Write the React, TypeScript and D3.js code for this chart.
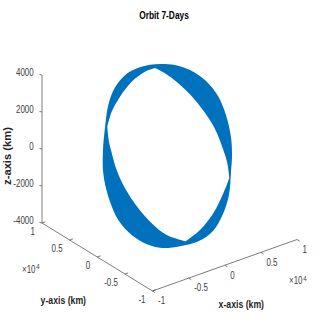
import React from "react";
import * as d3 from "d3";

const xTicks = [-1, -0.5, 0, 0.5, 1];
const yTicks = [1, 0.5, 0, -0.5, -1];
const zTicks = [4000, 2000, 0, -2000, -4000];

// Outer edge of the swept orbit band: x, y (x10^4 km), z (km)
const outerX = [0.233,0.36,0.499,0.612,0.68,0.695,0.671,0.622,0.555,0.459,0.337,0.183,0.012,-0.192,-0.375,-0.51,-0.629,-0.711,-0.732,-0.704,-0.629,-0.537,-0.428,-0.304,-0.14,-0.009,0.116];
const outerY = [0.446,0.371,0.264,0.139,0.011,-0.113,-0.235,-0.318,-0.387,-0.476,-0.527,-0.548,-0.518,-0.441,-0.354,-0.26,-0.139,-0.003,0.15,0.278,0.381,0.466,0.548,0.589,0.587,0.552,0.504];
const outerZ = [3898,3802,3510,3014,2343,1524,592,-160,-860,-1805,-2569,-3234,-3591,-3734,-3732,-3518,-3070,-2395,-1389,-398,570,1474,2413,3112,3644,3839,3916];

// Inner edge of the band, starting at the upper cusp, going clockwise
const innerX = [0.154,0.234,0.332,0.441,0.538,0.553,0.548,0.518,0.409,0.244,0.058,-0.122,-0.286,-0.394,-0.476,-0.54,-0.561,-0.551,-0.543,-0.51,-0.417,-0.285,-0.121,0.043];
const innerY = [0.463,0.388,0.275,0.115,-0.102,-0.251,-0.33,-0.405,-0.439,-0.473,-0.476,-0.449,-0.323,-0.193,-0.058,0.099,0.222,0.339,0.385,0.459,0.501,0.523,0.526,0.5];
const innerZ = [3759,3499,3030,2271,1074,84,-485,-1115,-1712,-2501,-3139,-3550,-3212,-2666,-1991,-1107,-316,537,889,1518,2122,2710,3285,3646];
const innerCorners = [0, 7, 11, 19];

// Oblique projection of MATLAB's 3-D axes
const sxX = d3.scaleLinear().domain([-1, 1]).range([-72.25, 72.25]);
const sxY = d3.scaleLinear().domain([-1, 1]).range([55.25, -55.25]);
const syX = d3.scaleLinear().domain([-1, 1]).range([25.75, -25.75]);
const syY = d3.scaleLinear().domain([-1, 1]).range([34, -34]);
const syZ = d3.scaleLinear().domain([-4000, 4000]).range([74, -74]);
const CX = 169.5, CY = 157.25;
const px = (x: number, y: number) => CX + sxX(x) + sxY(y);
const py = (x: number, y: number, z: number) => CY + syX(x) + syY(y) + syZ(z);
const P = (x: number, y: number, z: number): [number, number] => [px(x, y), py(x, y, z)];

const SANS = "'Liberation Sans', Arial, sans-serif";
const AXC = "#5a5a5a";
const TXT = "#404040";

// Text squeezed horizontally, as in the reference's narrow lettering
function T({ x, y, k = 0.76, anchor = "start", mid = false, children, ...rest }: any) {
  return (
    <text
      transform={`translate(${x},${y}) scale(${k},1)`}
      textAnchor={anchor}
      dominantBaseline={mid ? "middle" : undefined}
      {...rest}
    >
      {children}
    </text>
  );
}

export default function App() {
  const outer = outerX.map((x, i) => P(x, outerY[i], outerZ[i]));
  const inner = innerX.map((x, i) => P(x, innerY[i], innerZ[i]));
  const closed = d3.line().curve(d3.curveCatmullRomClosed.alpha(0.5));
  const open = d3.line().curve(d3.curveCatmullRom.alpha(0.5));
  const arcs = innerCorners.map((c, i) => {
    const next = innerCorners[i + 1];
    return next === undefined ? [...inner.slice(c), inner[0]] : inner.slice(c, next + 1);
  });
  const innerD = arcs
    .map((a, i) => {
      const d = open(a) as string;
      return i === 0 ? d : d.replace(/^M[^CL]*/, "");
    })
    .join("");
  const bandD = (closed(outer) as string) + innerD + "Z";

  const tick = 2.6;
  return (
    <svg width={327} height={327} style={{ position: "absolute", left: 0, top: 0 }} fontFamily={SANS}>
      <rect width={327} height={327} fill="#fff" />
      <path d={bandD} fill="#0072bd" fillRule="evenodd" />
      <g stroke={AXC} strokeWidth={0.8} fill="none">
        <line x1={px(-1, 1)} y1={py(-1, 1, -4000)} x2={px(-1, 1)} y2={py(-1, 1, 4000)} />
        <line x1={px(-1, 1)} y1={py(-1, 1, -4000)} x2={px(-1, -1)} y2={py(-1, -1, -4000)} />
        <line x1={px(-1, -1)} y1={py(-1, -1, -4000)} x2={px(1, -1)} y2={py(1, -1, -4000)} />
        {zTicks.map((z) => (
          <line key={z} x1={px(-1, 1)} y1={py(-1, 1, z)} x2={px(-1, 1) - tick} y2={py(-1, 1, z) - 0.6} />
        ))}
        {yTicks.map((y) => (
          <line key={y} x1={px(-1, y)} y1={py(-1, y, -4000)} x2={px(-1, y) + tick * 1.3} y2={py(-1, y, -4000) - 1.2} />
        ))}
        {xTicks.map((x) => (
          <line key={x} x1={px(x, -1)} y1={py(x, -1, -4000)} x2={px(x, -1) + tick} y2={py(x, -1, -4000) + 1.6} />
        ))}
      </g>
      <g fill={TXT} fontSize={10.5}>
        {zTicks.map((z) => (
          <T key={z} x={33.7} y={py(-1, 1, z) - 1.7} anchor="end" mid>{z}</T>
        ))}
        {yTicks.map((y) => (
          <T key={y} x={px(-1, y) - 7} y={py(-1, y, -4000) + 9.3} anchor="end" mid>{y}</T>
        ))}
        {xTicks.map((x) => (
          <T key={x} x={px(x, -1) + 5.5} y={py(x, -1, -4000) + 10.5} mid>{x}</T>
        ))}
        <T x={22} y={272.5}>×10<tspan fontSize={8} dy={-3.5} dx={1}>4</tspan></T>
        <T x={289} y={284}>×10<tspan fontSize={8} dy={-3.5} dx={1}>4</tspan></T>
      </g>
      <g fill="#262626" fontWeight="bold" fontSize={11}>
        <T x={164} y={19} anchor="middle" fill="#000">Orbit 7-Days</T>
        <T x={63.3} y={303.5} anchor="middle" k={0.79}>y-axis (km)</T>
        <T x={241.3} y={307.5} anchor="middle" k={0.79}>x-axis (km)</T>
        <text transform="translate(10.5,156) rotate(-90)" textAnchor="middle" fontSize={11.2}>z-axis (km)</text>
      </g>
    </svg>
  );
}
